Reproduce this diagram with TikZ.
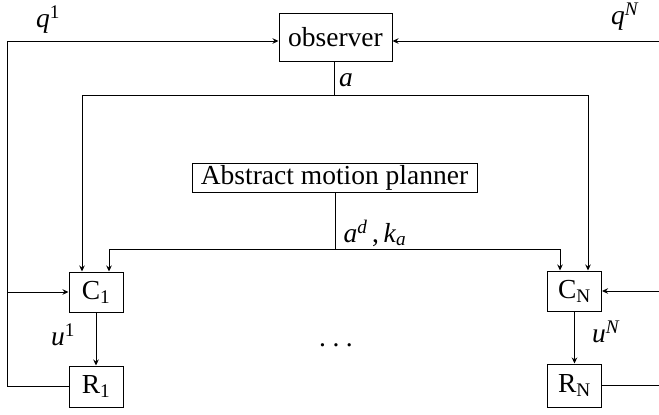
\documentclass[tikz,border=0pt]{standalone}
\usepackage{fontspec}
\setmainfont{Liberation Serif}
\usetikzlibrary{arrows.meta}

\begin{document}
\begin{tikzpicture}[x=1pt,y=-1pt,line width=1pt,
    font=\fontsize{27.5}{30}\selectfont]
    \useasboundingbox (0,0) rectangle (659,415);

    \begin{scope}[every node/.style={draw,inner sep=0pt,minimum width=54pt,minimum height=40pt}]
      \node[minimum width=113pt,minimum height=48pt] (obs) at (335.5,37) {observer};
      \node[minimum width=285pt,minimum height=29pt] (amp) at (334.5,177.5) {Abstract motion planner};
      \node (c1) at (96,292) {C\textsubscript{1}};
      \node (cN) at (574.5,291) {C\textsubscript{N}};
      \node[minimum height=41pt] (r1) at (96,386.5) {R\textsubscript{1}};
      \node[minimum height=43pt] (rN) at (574.5,385.5) {R\textsubscript{N}};
    \end{scope}

    \coordinate (q1) at (7,41);
    \coordinate (qN) at (659,41);
    \coordinate (abus) at (334,95);
    \coordinate (dbus) at (335,249);
    \coordinate (cin) at (659,291);

    \begin{scope}[>={Stealth[length=6pt,width=5.5pt]}]
      \draw[->] (r1.west) -| (q1) -- (obs.west |- q1);
      \draw[->] (c1.west -| q1) -- (c1.west);
      \draw[->] (qN) -- (obs.east |- qN);
      \draw (obs.south -| abus) -- (abus);
      \draw[->] (abus) -| ([xshift=-14pt]c1.north);
      \draw[->] (abus) -| ([xshift=13.5pt]cN.north);
      \draw (amp.south -| dbus) -- (dbus);
      \draw[->] (dbus) -| ([xshift=13pt]c1.north);
      \draw[->] (dbus) -| ([xshift=-14.5pt]cN.north);
      \draw[->] (c1) -- (r1);
      \draw[->] (cN) -- (rN);
      \draw[->] (cin) -- (cN.east);
      \draw (rN.east) -- (rN.east -| cin);
    \end{scope}

    % labels
    \node (lq1) at (48,20) {\textit{q}\textsuperscript{1}};
    \node (lqN) at (625,17) {\textit{q}\textsuperscript{\textit{N}}};
    \node (la) at (346,80) {\textit{a}};
    \node (lad) at (375,233) {\textit{a}\textsuperscript{\textit{d}}\,,\,\textit{k}\textsubscript{\textit{a}}};
    \node (lu1) at (63,335) {\textit{u}\textsuperscript{1}};
    \node (luN) at (606,332) {\textit{u}\textsuperscript{\textit{N}}};
    \node (dots) at (336,345) {.\hspace{6.5pt}.\hspace{6.5pt}.};
  \end{tikzpicture}
\end{document}
